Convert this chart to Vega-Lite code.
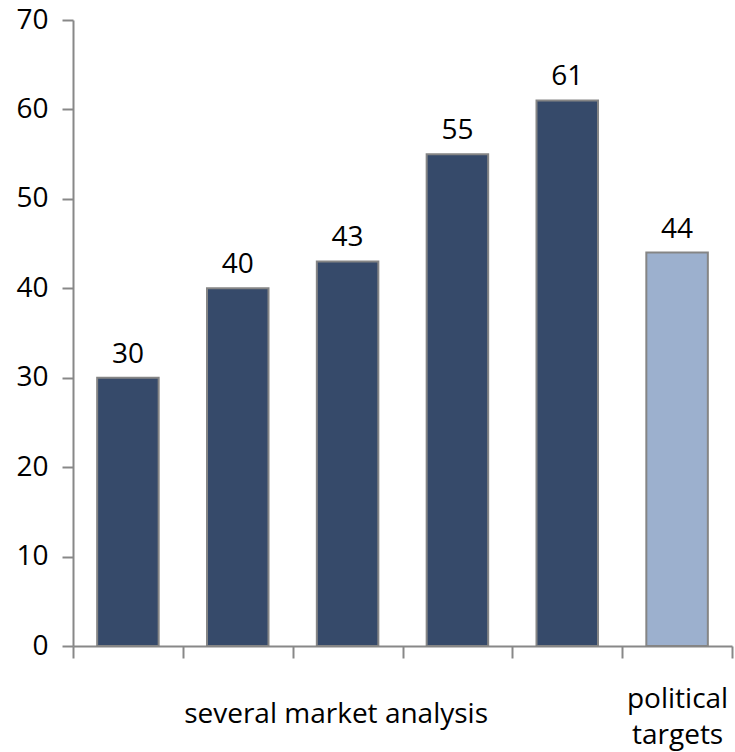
{
  "$schema": "https://vega.github.io/schema/vega-lite/v6.json",
  "width": 659,
  "height": 626,
  "autosize": {"type": "none"},
  "padding": {"left": 73, "top": 20, "right": 3, "bottom": 106},
  "background": "white",
  "config": {
    "view": {"stroke": null},
    "font": "Open Sans",
    "axis": {"grid": false, "domainColor": "#888888", "domainWidth": 2, "tickColor": "#888888", "tickWidth": 2, "labelColor": "#000000", "labelFont": "Open Sans", "labelFontSize": 28, "title": null}
  },
  "data": {
    "values": [
      {"cat": "c1", "value": 30, "group": "market"},
      {"cat": "c2", "value": 40, "group": "market"},
      {"cat": "c3", "value": 43, "group": "market"},
      {"cat": "c4", "value": 55, "group": "market"},
      {"cat": "c5", "value": 61, "group": "market"},
      {"cat": "c6", "value": 44, "group": "political"}
    ]
  },
  "encoding": {
    "x": {
      "field": "cat", "type": "nominal", "sort": null,
      "scale": {"paddingInner": 0, "paddingOuter": 0},
      "axis": {
        "tickBand": "extent", "tickSize": 12, "labelAngle": 0,
        "labelExpr": "datum.value == 'c3' ? 'several market analysis' : datum.value == 'c6' ? ['political','targets'] : ''",
        "labelBaseline": "middle", "labelLineHeight": 36,
        "labelPadding": {"condition": {"test": "datum.value == 'c6'", "value": 41}, "value": 56},
        "labelLimit": 0, "labelOverlap": false, "labelBound": false, "labelFlush": false,
        "labelOffset": {"condition": {"test": "datum.value == 'c3'", "value": -12}, "value": 0}
      }
    },
    "y": {
      "field": "value", "type": "quantitative",
      "scale": {"domain": [0, 70], "nice": false},
      "axis": {"values": [0, 10, 20, 30, 40, 50, 60, 70], "tickSize": 11, "labelPadding": 14}
    }
  },
  "layer": [
    {
      "mark": {"type": "bar", "width": {"band": 0.56}, "stroke": "#858585", "strokeWidth": 2},
      "encoding": {
        "color": {"field": "group", "type": "nominal", "scale": {"domain": ["market", "political"], "range": ["#364A6A", "#9CB0CE"]}, "legend": null}
      }
    },
    {
      "mark": {"type": "text", "baseline": "alphabetic", "dy": -15, "fontSize": 28, "font": "Open Sans", "color": "#000000"},
      "encoding": {"text": {"field": "value", "type": "quantitative"}}
    }
  ]
}
